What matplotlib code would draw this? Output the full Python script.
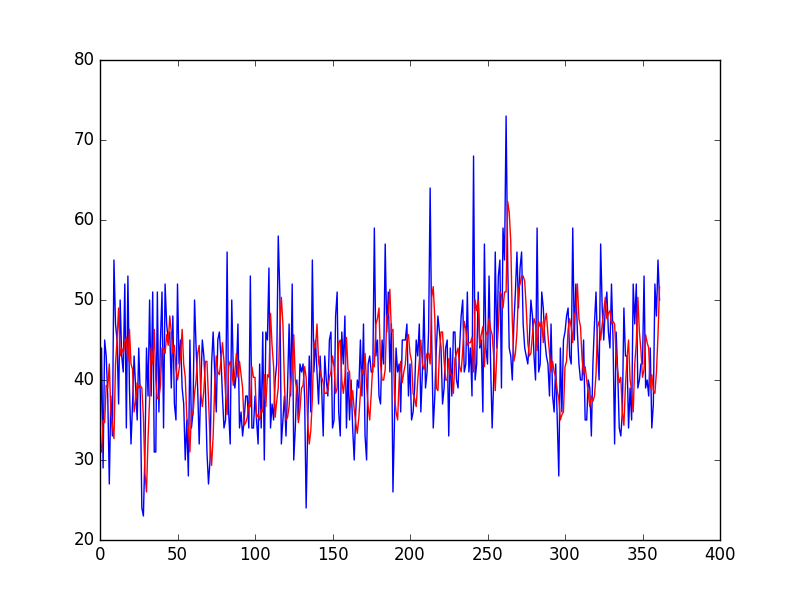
import matplotlib
matplotlib.use("Agg")
import matplotlib.pyplot as plt
import numpy as np

births = [35,32,30,31,44,29,45,43,38,27,38,33,55,47,45,37,50,43,41,52,34,53,39,32,37,43,39,35,44,38,24,23,31,44,38,50,38,51,31,31,51,36,45,51,34,52,47,45,46,39,48,37,35,52,42,45,39,37,30,35,28,45,34,36,50,44,39,32,39,45,43,39,31,27,30,42,46,41,36,45,46,43,38,34,35,56,36,32,50,41,39,41,47,34,36,33,35,38,38,34,53,34,34,38,35,32,42,34,46,30,46,45,54,34,37,35,40,42,58,51,32,35,38,33,39,47,38,52,30,34,40,35,42,41,42,38,24,34,43,36,55,41,45,41,37,43,39,33,43,40,38,45,46,34,35,48,51,36,33,46,42,48,34,41,35,40,34,30,36,40,39,45,38,47,33,30,42,43,41,41,59,43,45,38,37,45,42,57,46,51,41,47,26,35,44,41,42,36,45,45,45,47,38,42,35,36,39,45,43,47,36,41,50,39,41,46,64,45,34,38,44,48,46,44,37,39,44,45,33,44,38,46,46,40,39,44,48,50,41,42,51,41,44,38,68,40,42,51,44,45,36,57,44,42,53,42,34,40,56,44,53,55,39,59,55,73,55,44,43,40,47,51,56,49,54,56,47,44,43,42,45,50,48,43,40,59,41,42,51,49,45,43,42,38,47,38,36,42,35,28,44,36,45,46,48,49,43,42,59,45,52,46,42,40,40,45,35,35,40,39,33,42,47,51,44,40,57,49,45,49,51,46,44,52,45,32,46,41,34,33,36,49,43,43,34,39,35,52,47,52,39,40,42,42,53,39,40,38,44,34,37,52,48,55,50]
window = 3

test = births[window:]
predictions = [np.mean(births[i - window:i]) for i in range(window, len(births))]

plt.style.use('classic')
fig = plt.figure(figsize=(8, 6), dpi=100)
plt.plot(test, color='b')
plt.plot(predictions, color='r')
plt.xlim(0, 400)
plt.ylim(20, 80)
plt.savefig('out.png', dpi=100)
